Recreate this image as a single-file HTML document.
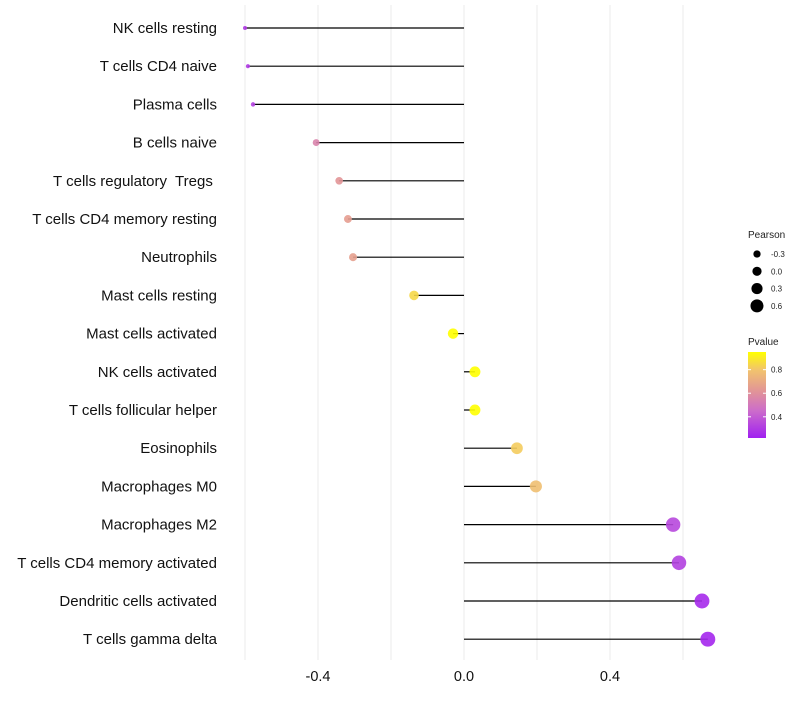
<!DOCTYPE html>
<html><head><meta charset="utf-8"><style>
body{margin:0;background:#fff;font-family:"Liberation Sans",sans-serif}
svg text{font-family:"Liberation Sans",sans-serif;white-space:pre}
</style></head><body>
<svg id="c" width="800" height="700"></svg>
<script>
const categories=["NK cells resting","T cells CD4 naive","Plasma cells","B cells naive","T cells regulatory  Tregs ","T cells CD4 memory resting","Neutrophils","Mast cells resting","Mast cells activated","NK cells activated","T cells follicular helper","Eosinophils","Macrophages M0","Macrophages M2","T cells CD4 memory activated","Dendritic cells activated","T cells gamma delta"];
const pearson=[-0.600,-0.592,-0.578,-0.405,-0.342,-0.318,-0.304,-0.137,-0.030,0.030,0.030,0.145,0.197,0.573,0.589,0.652,0.668];
const pvalue=[0.30,0.30,0.32,0.55,0.62,0.65,0.66,0.85,0.95,0.95,0.95,0.82,0.78,0.34,0.32,0.25,0.24];
const xTicks=[-0.4,0.0,0.4];
const gridVals=[-0.6,-0.2,0.2,0.6];
const legendPearson=[-0.3,0.0,0.3,0.6];
const legendP=[0.8,0.6,0.4];

const NS="http://www.w3.org/2000/svg",svg=document.getElementById('c');
function el(t,a,p){const e=document.createElementNS(NS,t);for(const k in a)e.setAttribute(k,a[k]);(p||svg).appendChild(e);return e;}
const x=v=>464+v*365;
const y=i=>28+i*38.2;
const r=v=>Math.sqrt(Math.max(3,28.6+41*v));
const rl=v=>3.6+3.2*v+1;
const stops=[[0.22,[160,32,240]],[0.45,[204,108,203]],[0.6,[224,144,156]],[0.8,[242,196,108]],[0.95,[255,255,0]]];
function col(p){if(p<=stops[0][0])return`rgb(${stops[0][1]})`;for(let i=1;i<stops.length;i++){if(p<=stops[i][0]){const a=stops[i-1],b=stops[i],t=(p-a[0])/(b[0]-a[0]);return`rgb(${a[1].map((c,j)=>Math.round(c+(b[1][j]-c)*t))})`;}}return`rgb(${stops[stops.length-1][1]})`;}

gridVals.concat(xTicks).forEach(v=>{const g=el('line',{x1:x(v),x2:x(v),y1:5,y2:660,stroke:'#ebebeb','stroke-width':1});

});
xTicks.forEach(v=>{const t=el('text',{x:x(v),y:681,'text-anchor':'middle','font-size':14.5,fill:'#111'});t.textContent=v.toFixed(1);

});
categories.forEach((c,i)=>{
const t=el('text',{x:217,y:y(i)+5,'text-anchor':'end','font-size':15,fill:'#111'});t.textContent=c;


const l=el('line',{x1:x(0),x2:x(pearson[i]),y1:y(i),y2:y(i),stroke:'#000','stroke-width':1.2});


const d=el('circle',{cx:x(pearson[i]),cy:y(i),r:r(pearson[i]),fill:col(pvalue[i]),'fill-opacity':0.9});


});
const lg=el('g',{});


let t=el('text',{x:748,y:238,'font-size':10,fill:'#222'},lg);t.textContent='Pearson';
legendPearson.forEach((v,i)=>{const cy=254+i*17.3;
const c=el('circle',{cx:757,cy:cy,r:rl(v),fill:'#000'},lg);


const tt=el('text',{x:771,y:cy+3,'font-size':8,fill:'#222'},lg);tt.textContent=v.toFixed(1);});
t=el('text',{x:748,y:345,'font-size':10,fill:'#222'},lg);t.textContent='Pvalue';
const defs=el('defs',{});const gr=el('linearGradient',{id:'pg',x1:0,y1:1,x2:0,y2:0},defs);
stops.forEach(s=>{const o=(s[0]-0.22)/(0.95-0.22);el('stop',{offset:o,'stop-color':`rgb(${s[1]})`},gr);});
const bar=el('rect',{x:748,y:352,width:18,height:86,fill:'url(#pg)'},lg);


const py=p=>438-(p-0.22)/(0.95-0.22)*86;
legendP.forEach(p=>{el('line',{x1:748,x2:751,y1:py(p),y2:py(p),stroke:'#fff'},lg);el('line',{x1:763,x2:766,y1:py(p),y2:py(p),stroke:'#fff'},lg);
const tt=el('text',{x:771,y:py(p)+3,'font-size':8,fill:'#222'},lg);tt.textContent=p.toFixed(1);});
</script>
</body></html>
